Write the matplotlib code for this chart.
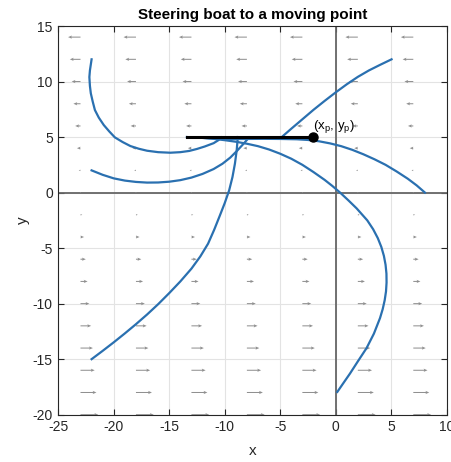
import numpy as np
import matplotlib
matplotlib.use("Agg")
import matplotlib.pyplot as plt

plt.rcParams['font.family'] = ['Liberation Sans', 'DejaVu Sans']
plt.rcParams['mathtext.fontset'] = 'custom'
plt.rcParams['mathtext.rm'] = 'Liberation Sans'
plt.rcParams['axes.unicode_minus'] = False

# Current field: grid of sample points and the eastward current speed per row
field_x = [-23, -18, -13, -8, -3, 2, 7]
field_y = [-20, -18, -16, -14, -12, -10, -8, -6, -4, -2, 0, 2, 4, 6, 8, 10, 12, 14]
current_u = [1.60, 1.44, 1.28, 1.12, 0.96, 0.80, 0.64, 0.48, 0.32, 0.16, 0.0,
             -0.16, -0.32, -0.48, -0.64, -0.80, -0.96, -1.12]

# Moving target: start point and the path it drifts along
target_start = (-2.0, 5.0)
target_path_x = [-13.4, -2.0]
target_path_y = [5.0, 5.0]

# Boat trajectories from six starting points
boat1_x = [-22.0, -22.15, -22.2, -22.15, -22.07, -21.9, -21.7, -21.35, -20.9, -20.4, -19.9, -19.2,
           -18.5, -17.75, -17.0, -16.0, -14.9, -14.0, -13.2, -12.5, -11.8, -11.0, -10.6, -10.3]
boat1_y = [12.0, 11.0, 10.4, 9.6, 8.94, 8.2, 7.43, 6.75, 6.08, 5.5, 4.97, 4.55,
           4.19, 3.95, 3.77, 3.64, 3.59, 3.64, 3.75, 3.93, 4.15, 4.45, 4.7, 4.97]

boat2_x = [-22.0, -21.0, -20.0, -19.0, -18.0, -17.0, -16.0, -15.0, -14.0, -13.0, -12.0, -11.0,
           -10.2, -9.5, -8.9, -8.3, -7.8]
boat2_y = [2.0, 1.6, 1.28, 1.08, 0.96, 0.9, 0.91, 0.98, 1.12, 1.35, 1.68, 2.12,
           2.6, 3.15, 3.75, 4.4, 4.97]

boat3_x = [-22.0, -21.0, -20.0, -19.0, -18.0, -17.0, -16.0, -15.0, -14.0, -13.0, -12.2, -11.5,
           -10.95, -10.45, -10.0, -9.6, -9.3, -9.08, -8.92, -8.82]
boat3_y = [-15.0, -14.25, -13.48, -12.68, -11.85, -10.98, -10.05, -9.05, -8.0, -6.85, -5.75, -4.6,
           -3.35, -2.1, -0.95, 0.2, 1.4, 2.6, 3.8, 5.0]

boat4_x = [0.15, 0.7, 1.29, 2.0, 2.79, 3.45, 4.0, 4.24, 4.42, 4.54, 4.59, 4.58, 4.5, 4.35, 4.12,
           3.8, 3.38, 2.85, 1.89, 1.15, 0.4, -0.3, -1.0, -2.0, -3.0, -4.0, -5.0, -6.0, -7.0, -8.0,
           -9.0, -10.0, -11.0, -12.0, -13.4]
boat4_y = [-17.95, -17.15, -16.3, -15.2, -14.0, -12.7, -11.3, -10.5, -9.7, -8.9, -8.1, -7.3, -6.5,
           -5.7, -4.9, -4.1, -3.3, -2.5, -1.42, -0.7, 0.0, 0.6, 1.15, 1.85, 2.5, 3.05, 3.5, 3.88,
           4.18, 4.4, 4.58, 4.72, 4.84, 4.93, 5.0]

boat5_x = [8.05, 7.3, 6.5, 5.5, 4.5, 3.5, 2.5, 1.5, 0.5, -0.5, -1.5, -2.5, -3.5, -5.0, -6.5,
           -8.0, -9.5, -11.0, -12.3, -13.4]
boat5_y = [0.0, 0.65, 1.25, 1.9, 2.5, 3.0, 3.45, 3.85, 4.18, 4.43, 4.62, 4.74, 4.8, 4.83, 4.84,
           4.83, 4.82, 4.87, 4.94, 5.0]

boat6_x = [5.04, 4.0, 3.0, 2.0, 1.0, 0.0, -1.0, -2.0, -3.0, -4.0, -4.86]
boat6_y = [12.0, 11.5, 11.0, 10.42, 9.75, 9.02, 8.25, 7.45, 6.6, 5.75, 5.0]

boats = [(boat1_x, boat1_y), (boat2_x, boat2_y), (boat3_x, boat3_y),
         (boat4_x, boat4_y), (boat5_x, boat5_y), (boat6_x, boat6_y)]

fig = plt.figure(figsize=(4.52, 4.62), dpi=100)
ax = fig.add_axes([0.129, 0.1024, 0.859, 0.8413])

# Grid and coordinate axes
ax.grid(True, color='#e3e3e3', linewidth=0.8)
ax.set_axisbelow(True)
ax.axhline(0, color='#666666', linewidth=1.3, zorder=1.5)
ax.axvline(0, color='#666666', linewidth=1.3, zorder=1.5)

# Current field
X, Y = np.meshgrid(field_x, field_y)
U = np.repeat(np.array(current_u)[:, None], len(field_x), axis=1)
V = np.zeros_like(U)
ax.quiver(X, Y, U, V, angles='xy', scale_units='xy', scale=1, color='#8f8f8f',
          width=0.0026, headwidth=3.2, headlength=3.8, headaxislength=3.2, zorder=2)

blue = '#2a70b0'
for bx, by in boats:
    ax.plot(bx, by, color=blue, linewidth=1.6, zorder=3, solid_joinstyle='round')

ax.plot(target_path_x, target_path_y, color='black', linewidth=2.2, zorder=4)
ax.plot([target_start[0]], [target_start[1]], 'o', color='black', markersize=6.5, zorder=5)
ax.text(target_start[0], target_start[1] + 0.95, r'(x$_\mathregular{p}$, y$_\mathregular{p}$)',
        fontsize=9.5, ha='left', va='center', zorder=6)

ax.set_xlim(-25, 10)
ax.set_ylim(-20, 15)
ax.set_xticks(range(-25, 11, 5))
ax.set_yticks(range(-20, 16, 5))
ax.tick_params(direction='in', length=4, width=0.8, top=True, right=True,
               labelsize=10, colors='#262626', pad=4)
for s in ax.spines.values():
    s.set_color('#262626')
    s.set_linewidth(0.8)

ax.set_xlabel('x', fontsize=11, color='#262626', labelpad=7)
ax.set_ylabel('y', fontsize=11, color='#262626', labelpad=2)
ax.set_title('Steering boat to a moving point', fontsize=11, fontweight='bold', pad=5)

fig.savefig('out.png', dpi=100)
